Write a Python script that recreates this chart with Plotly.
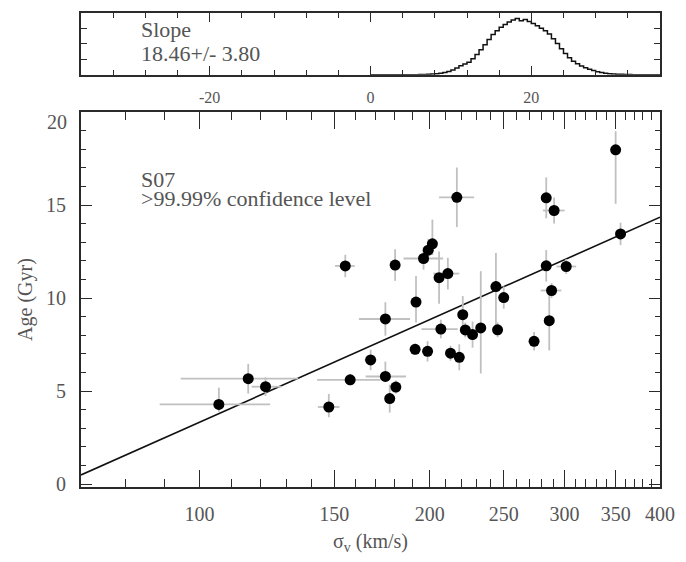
import math
import plotly.graph_objects as go

# ---- main panel data (velocity dispersion vs age) ----
sigma = [106.0, 115.8, 122.0, 147.6, 155.1, 157.4, 167.4, 175.0, 175.0, 180.6,
         177.3, 180.2, 191.9, 191.4, 198.7, 196.3, 199.1, 201.6, 205.7, 211.2,
         206.8, 212.9, 218.6, 217.0, 220.9, 222.6, 227.5, 233.2, 244.1, 245.3,
         249.9, 273.8, 284.0, 284.0, 290.8, 288.6, 286.6, 301.6, 350.0, 355.2]
sigma_err_minus = [17.3, 21.3, 5.0, 4.8, 4.7, 14.9, 3.0, 13.4, 10.1, 2.0,
                   2.0, 2.0, 2.0, 2.0, 2.0, 11.5, 3.0, 3.0, 3.0, 9.1,
                   11.7, 2.0, 3.0, 11.3, 3.0, 3.0, 3.0, 3.0, 3.0, 3.0,
                   3.0, 3.0, 3.0, 3.0, 9.6, 9.3, 3.0, 8.7, 3.0, 3.0]
sigma_err_plus = [17.7, 18.8, 6.0, 4.8, 4.5, 15.0, 3.0, 13.5, 11.2, 2.0,
                  2.0, 2.0, 2.0, 2.0, 2.0, 11.9, 3.0, 3.0, 3.0, 7.4,
                  10.8, 2.0, 3.0, 11.6, 3.0, 3.0, 3.0, 3.0, 3.0, 3.0,
                  3.0, 3.0, 3.0, 3.0, 9.4, 8.7, 3.0, 9.2, 3.0, 3.0]
age = [4.29, 5.67, 5.24, 4.15, 11.73, 5.61, 6.68, 8.88, 5.79, 5.22,
       4.60, 11.78, 9.79, 7.25, 7.14, 12.13, 12.58, 12.92, 11.10, 11.32,
       8.34, 7.04, 6.82, 15.42, 9.11, 8.29, 8.04, 8.40, 10.62, 8.30,
       10.03, 7.68, 15.39, 11.74, 14.71, 10.41, 8.79, 11.70, 17.97, 13.45]
age_err_plus = [0.9, 0.8, 0.5, 0.7, 0.6, 0.3, 0.55, 0.9, 0.8, 0.35,
                0.75, 0.85, 1.4, 0.3, 0.55, 0.6, 0.6, 1.3, 1.4, 0.85,
                0.5, 0.4, 0.7, 1.6, 1.0, 0.4, 0.7, 3.05, 1.8, 0.4,
                0.6, 0.5, 1.1, 0.85, 0.7, 0.4, 1.6, 0.4, 1.0, 0.6]
age_err_minus = [0.4, 0.8, 0.5, 0.55, 0.6, 0.3, 0.55, 0.9, 0.3, 0.35,
                 0.75, 0.85, 1.1, 0.3, 0.55, 0.6, 0.6, 0.6, 1.4, 0.85,
                 0.5, 0.4, 0.7, 1.6, 1.0, 0.4, 0.7, 2.45, 2.2, 0.4,
                 0.6, 0.5, 1.1, 0.85, 0.7, 0.4, 1.6, 0.4, 2.9, 0.6]

# best-fit line end points
fit_sigma = [70, 400]
fit_age = [0.5, 14.35]

# ---- top panel: slope posterior histogram ----
slope_bins = [i * 0.5 for i in range(73)]
slope_hist = [0, 0, 0, 0, 0, 0, 0, 0, 0.001, 0.001, 0.002, 0.002,
              0.003, 0.005, 0.007, 0.012, 0.018, 0.027, 0.040, 0.060, 0.085, 0.120,
              0.160, 0.190, 0.225, 0.285, 0.360, 0.445, 0.535, 0.630, 0.715, 0.785,
              0.845, 0.895, 0.940, 0.975, 1.000, 0.960, 0.985, 0.950, 0.915, 0.875,
              0.830, 0.785, 0.725, 0.640, 0.555, 0.465, 0.380, 0.305, 0.240, 0.195,
              0.155, 0.125, 0.098, 0.075, 0.055, 0.040, 0.029, 0.020, 0.014, 0.010,
              0.007, 0.005, 0.003, 0.002, 0.001, 0.001, 0, 0, 0, 0, 0]

x_major = [100, 150, 200, 250, 300, 350, 400]
x_minor = [80, 90] + [v for v in range(110, 400, 10) if v not in x_major]
y_major = [0, 5, 10, 15]
y_major_text = ["0", "5", "10", "15"]
top_major = [-20, 0, 20]
top_minor = [-32, -28, -24, -16, -12, -8, -4, 4, 8, 12, 16, 24, 28, 32]

FONT = "Liberation Serif"
TXT = "#555555"
AX = "#2a2a2a"
EBAR = "#c0c0c0"

fig = go.Figure()

fig.add_trace(go.Scatter(
    x=slope_bins, y=slope_hist, mode="lines", line=dict(color="#111", width=1.5, shape="hv"),
    xaxis="x", yaxis="y", showlegend=False, hoverinfo="skip"))

fig.add_trace(go.Scatter(
    x=fit_sigma, y=fit_age, mode="lines", line=dict(color="#111", width=1.6),
    xaxis="x2", yaxis="y2", showlegend=False))

fig.add_trace(go.Scatter(
    x=sigma, y=age, mode="markers",
    marker=dict(color="black", size=11, line=dict(width=0)),
    error_x=dict(type="data", symmetric=False, array=sigma_err_plus, arrayminus=sigma_err_minus,
                 color=EBAR, thickness=1.8, width=0),
    error_y=dict(type="data", symmetric=False, array=age_err_plus, arrayminus=age_err_minus,
                 color=EBAR, thickness=1.8, width=0),
    xaxis="x2", yaxis="y2", showlegend=False))

common = dict(showgrid=False, zeroline=False, showline=True, linecolor=AX, linewidth=1.8,
              mirror="ticks", ticks="inside", tickcolor=AX, tickwidth=1.2)

fig.update_layout(
    width=686, height=562,
    margin=dict(l=81, r=19, t=11, b=75),
    paper_bgcolor="white", plot_bgcolor="white",
    font=dict(family=FONT, color=TXT, size=20),
    xaxis=dict(domain=[0, 1], anchor="y", range=[-36, 36], tickmode="array",
               tickvals=top_major, ticktext=["-20", "0", "20"], ticklen=9,
               tickfont=dict(size=16, family=FONT, color=TXT), ticklabelstandoff=7,
               minor=dict(tickmode="array", tickvals=top_minor, ticks="inside", ticklen=5,
                          tickcolor=AX, tickwidth=1.2),
               **common),
    yaxis=dict(domain=[0.8697, 1], anchor="x", range=[0, 1.1], tickmode="array",
               tickvals=[0.275, 0.55, 0.825], showticklabels=False, ticklen=6, **common),
    xaxis2=dict(domain=[0, 1], anchor="y2", type="log",
                range=[math.log10(70), math.log10(400)], tickmode="array",
                tickvals=x_major, ticktext=[str(v) for v in x_major], ticklen=17,
                tickfont=dict(size=20, family=FONT, color=TXT), ticklabelstandoff=8,
                minor=dict(tickmode="array", tickvals=x_minor, ticks="inside", ticklen=8,
                           tickcolor=AX, tickwidth=1.2),
                title=dict(text="σ<sub>v</sub> (km/s)", font=dict(size=20, family=FONT, color=TXT),
                           standoff=10),
                **common),
    yaxis2=dict(domain=[0, 0.791], anchor="x2", range=[-0.15, 20], tickmode="array",
                tickvals=y_major, ticktext=y_major_text, ticklen=11,
                tickfont=dict(size=20, family=FONT, color=TXT), ticklabelstandoff=9,
                minor=dict(dtick=1, ticks="inside", ticklen=5, tickcolor=AX, tickwidth=1.2),
                title=dict(text="Age (Gyr)", font=dict(size=20, family=FONT, color=TXT),
                           standoff=8),
                **common),
)

tick_font = dict(family=FONT, size=20, color=TXT)
ann_font = dict(family=FONT, size=22, color=TXT)
fig.add_annotation(text="20", xref="paper", x=0, xanchor="right", xshift=-12,
                   yref="y2", y=20, yanchor="middle", yshift=-10, showarrow=False,
                   font=tick_font)
fig.add_annotation(text="Slope", xref="paper", x=0.1007, xanchor="left",
                   yref="paper", y=0.9643, yanchor="middle", showarrow=False, font=ann_font)
fig.add_annotation(text="18.46+/- 3.80", xref="paper", x=0.1007, xanchor="left",
                   yref="paper", y=0.9139, yanchor="middle", showarrow=False, font=ann_font)
fig.add_annotation(text="S07", xref="paper", x=0.1007, xanchor="left",
                   yref="paper", y=(487 - 178) / 476, yanchor="middle", showarrow=False,
                   font=ann_font)
fig.add_annotation(text=">99.99% confidence level", xref="paper", x=0.1007, xanchor="left",
                   yref="paper", y=(487 - 197) / 476, yanchor="middle", showarrow=False,
                   font=ann_font)

fig.write_html("out.html")
